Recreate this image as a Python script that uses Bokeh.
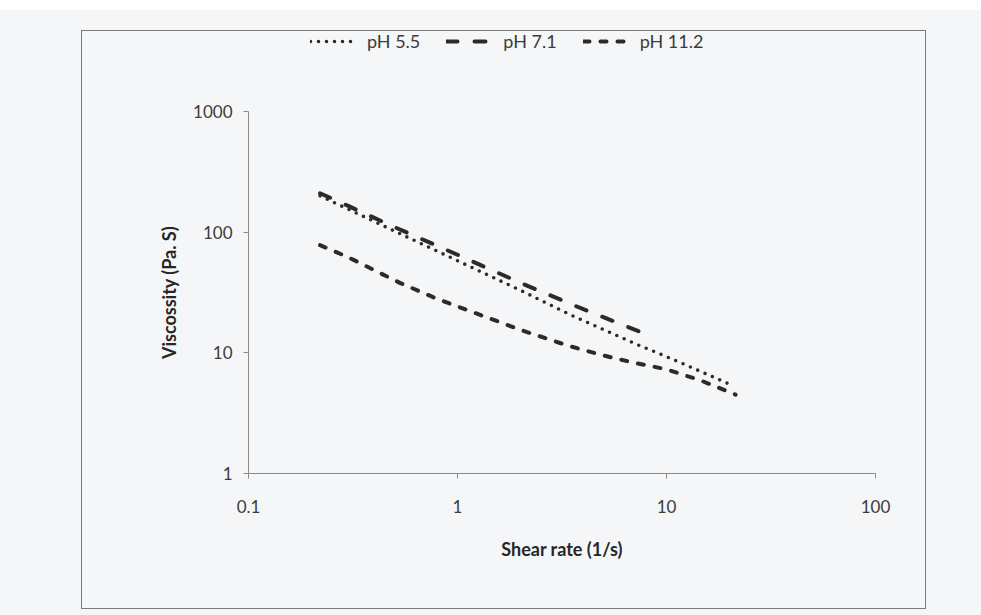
from bokeh.plotting import figure
from bokeh.layouts import column
from bokeh.models import Range1d, FixedTicker, Legend, LegendItem
from bokeh.embed import file_html
from bokeh.resources import INLINE

# ---- data ----
shear_55 = [0.22, 0.3, 0.5, 1.0, 2.0, 3.4, 7.0, 10.0, 14.6, 20.0]
visc_55 = [200, 155, 102, 58, 33, 21, 12, 9.3, 7.0, 5.5]

shear_71 = [0.22, 0.3, 0.5, 1.0, 2.0, 4.0, 7.8]
visc_71 = [210, 165, 110, 65, 38, 23, 14.5]

shear_112 = [0.22, 0.3, 0.53, 0.8, 1.39, 2.0, 3.36, 5.0, 6.95, 10.0, 14.6, 21.4]
visc_112 = [78, 62, 38, 28, 19.6, 15.5, 11.5, 9.5, 8.3, 7.3, 5.9, 4.5]

series_names = ["pH 5.5", "pH 7.1", "pH 11.2"]
x_ticks = [0.1, 1, 10, 100]
x_tick_labels = ["0.1", "1", "10", "100"]
y_ticks = [1, 10, 100, 1000]
y_tick_labels = ["1", "10", "100", "1000"]

FONT = "Lato"
BG = "#f5f6f8"
INK = "#2b2b2b"
styles = [dict(line_width=3.6, line_dash="0 8", line_cap="round"),
          dict(line_width=4, line_dash="11 17", line_cap="round"),
          dict(line_width=4, line_dash="6 11", line_cap="round")]
series = [(shear_55, visc_55), (shear_71, visc_71), (shear_112, visc_112)]

# ---------------- main chart ----------------
p = figure(width=843, height=517, x_axis_type="log", y_axis_type="log",
           x_range=Range1d(x_ticks[0], x_ticks[-1]),
           y_range=Range1d(y_ticks[0], y_ticks[-1]),
           output_backend="svg", toolbar_location=None,
           min_border_left=166, min_border_right=50,
           min_border_top=20, min_border_bottom=135)

p.background_fill_color = BG
p.border_fill_color = BG
p.outline_line_color = None
p.xgrid.visible = False
p.ygrid.visible = False

for ax, ticks, labels in ((p.xaxis[0], x_ticks, x_tick_labels), (p.yaxis[0], y_ticks, y_tick_labels)):
    ax.ticker = FixedTicker(ticks=ticks, minor_ticks=[])
    ax.major_label_overrides = {t: l for t, l in zip(ticks, labels)}
    ax.axis_line_color = "#8a8a8a"
    ax.major_tick_line_color = "#8a8a8a"
    ax.major_tick_in = 0
    ax.major_tick_out = 5
    ax.minor_tick_line_color = None
    ax.major_label_text_font = FONT
    ax.major_label_text_font_size = "17px"
    ax.major_label_text_color = "#3c3c3c"
    ax.axis_label_text_font = FONT
    ax.axis_label_text_font_size = "18px"
    ax.axis_label_text_font_style = "bold"
    ax.axis_label_text_color = "#262626"

p.xaxis.axis_label = "Shear rate (1/s)"
p.yaxis.axis_label = "Viscossity (Pa. S)"
p.xaxis.major_label_standoff = 21
p.yaxis.major_label_standoff = 11
p.xaxis.axis_label_standoff = 22
p.yaxis.axis_label_standoff = 10

for (xs, ys), st in zip(series, styles):
    p.line(xs, ys, line_color=INK, **st)

# ---------------- legend strip (top of chart box) ----------------
lg = figure(width=843, height=60, output_backend="svg", toolbar_location=None,
            x_axis_type="log", y_axis_type="log",
            x_range=Range1d(x_ticks[0], x_ticks[-1]),
            y_range=Range1d(y_ticks[0], y_ticks[-1]),
            x_axis_location=None, y_axis_location=None, min_border=0)
lg.background_fill_color = BG
lg.border_fill_color = BG
lg.outline_line_color = None
lg.xgrid.visible = False
lg.ygrid.visible = False
items = []
for name, (xs, ys), st in zip(series_names, series, styles):
    r = lg.line(xs, ys, line_color=INK, visible=False, **st)
    items.append(LegendItem(label=name, renderers=[r]))
legend = Legend(items=items, orientation="horizontal", location=(62, 39),
                border_line_color=None, background_fill_alpha=0,
                inactive_fill_alpha=0, click_policy="none",
                label_text_font=FONT, label_text_font_size="18px",
                label_text_color="#3c3c3c",
                glyph_width=48, glyph_height=20, label_standoff=9,
                spacing=26, padding=0, margin=0)
lg.add_layout(legend)

box = column(lg, p, margin=(31, 0, 0, 82), spacing=0,
             styles={"outline": "1.2px solid #7a7a7a"})
page = column(box, width=981, height=615,
              styles={"background": "linear-gradient(#ffffff 0px, #ffffff 10px, " + BG + " 10px)"})

open("out.html", "w").write(file_html(page, INLINE))
